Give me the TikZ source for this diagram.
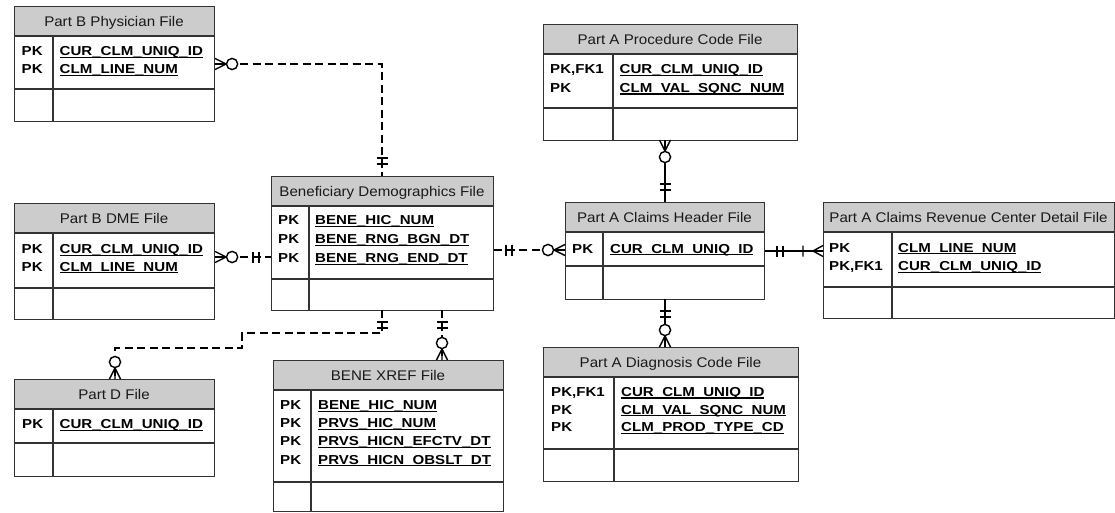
\documentclass[tikz,border=0pt]{standalone}
\usepackage{fontspec}
\setmainfont{Liberation Sans}
\newfontfamily\titlefam{Liberation Sans}[FakeStretch=1.08]
\newfontfamily\keyfam{Liberation Sans}[FakeStretch=1.16]

% underlined attribute name, rule merged with the underscores
\newcommand{\ulbox}[1]{\setbox0=\hbox{#1}\rlap{\rule[-2.3pt]{\wd0}{1.15pt}}\box0}

\tikzset{
  hdrfill/.style={fill=black!20},
  frame/.style={draw=black!80, line width=1.1pt},
  titletxt/.style={font=\titlefam\fontsize{14}{16}\selectfont, text=black!90, anchor=base, inner sep=0pt},
  field/.style={font=\keyfam\bfseries\fontsize{13}{15}\selectfont, text=black, anchor=base west, inner sep=0pt},
  rel/.style={line width=1.4pt, draw=black},
  ident/.style={rel},
  nonident/.style={rel, dash pattern=on 8pt off 4.5pt},
  % cardinality marks, drawn outward from the entity edge along +x
  zmany/.pic={
    \draw[rel] (0,5.5) -- (11,0) -- (0,-5.5) (0,0) -- (11,0);
    \draw[rel, fill=white] (17,0) circle[radius=5.6];
  },
  onlyone/.pic={
    \draw[rel] (12,-5.5) -- (12,5.5) (18,-5.5) -- (18,5.5) (12,0) -- (18,0);
  },
  onemany/.pic={
    \draw[rel] (0,5.5) -- (10,0) -- (0,-5.5) (0,0) -- (20,0) (20,-5.5) -- (20,5.5);
  },
}

% entity: name, left, top, right, header bottom, key bottom, bottom, column divider, title
\newcommand{\erentity}[9]{%
  \fill[hdrfill] (#2,#3) rectangle (#4,#5);
  \draw[frame] (#2,#5) -- (#4,#5) (#2,#6) -- (#4,#6) (#8,#5) -- (#8,#7);
  \node[frame, anchor=north west, inner sep=0pt,
        minimum width={(#4-#2)*1pt}, minimum height={(#7-#3)*1pt}] (#1) at (#2,#3) {};
  \node[titletxt] (#1-title) at ({(#2+#4)/2},{(#3+#5)/2+5}) {#9};
}
% field row: name, key x, attribute x, baseline, key, attribute
\newcommand{\erow}[6]{%
  \node[field] (#1-k) at (#2,#4) {#5};
  \node[field] (#1-a) at (#3,#4) {\ulbox{#6}};
}

\begin{document}
\begin{tikzpicture}[x=1pt, y=-1pt]
\useasboundingbox (0,0) rectangle (1115,512);
\fill[white] (0,0) rectangle (1115,512);

% ---------- entities ----------
\erentity{phys}{14}{6}{214}{36}{89}{121}{53}{Part B Physician File}
\erow{phys-1}{21.5}{59.5}{55.5}{PK}{CUR\_CLM\_UNIQ\_ID}
\erow{phys-2}{21.5}{59.5}{73.8}{PK}{CLM\_LINE\_NUM}

\erentity{dme}{14}{203}{214}{233}{288}{319}{53}{Part B DME File}
\erow{dme-1}{21.5}{59.5}{253.5}{PK}{CUR\_CLM\_UNIQ\_ID}
\erow{dme-2}{21.5}{59.5}{271}{PK}{CLM\_LINE\_NUM}

\erentity{bene}{271}{176}{493}{206}{279}{310}{309}{Beneficiary Demographics File}
\erow{bene-1}{278}{315}{224.5}{PK}{BENE\_HIC\_NUM}
\erow{bene-2}{278}{315}{243.5}{PK}{BENE\_RNG\_BGN\_DT}
\erow{bene-3}{278}{315}{262.5}{PK}{BENE\_RNG\_END\_DT}

\erentity{proc}{543}{24}{797}{54}{108}{140}{613}{Part A Procedure Code File}
\erow{proc-1}{550}{619.5}{73.5}{PK,FK1}{CUR\_CLM\_UNIQ\_ID}
\erow{proc-2}{550}{619.5}{92.2}{PK}{CLM\_VAL\_SQNC\_NUM}

\erentity{hdr}{565}{202}{764}{232}{266}{299}{603}{Part A Claims Header File}
\erow{hdr-1}{572}{610}{253}{PK}{CUR\_CLM\_UNIQ\_ID}

\erentity{rev}{823}{202}{1114}{232}{287}{318}{892}{Part A Claims Revenue Center Detail File}
\erow{rev-1}{829}{898}{252}{PK}{CLM\_LINE\_NUM}
\erow{rev-2}{829}{898}{270.5}{PK,FK1}{CUR\_CLM\_UNIQ\_ID}

\erentity{partd}{14}{379}{214}{409}{443}{476}{53}{Part D File}
\erow{partd-1}{22}{59.5}{428.5}{PK}{CUR\_CLM\_UNIQ\_ID}

\erentity{xref}{273}{360}{503}{390}{482}{511}{311}{BENE XREF File}
\erow{xref-1}{280}{318}{409.5}{PK}{BENE\_HIC\_NUM}
\erow{xref-2}{280}{318}{427.5}{PK}{PRVS\_HIC\_NUM}
\erow{xref-3}{280}{318}{445.8}{PK}{PRVS\_HICN\_EFCTV\_DT}
\erow{xref-4}{280}{318}{464}{PK}{PRVS\_HICN\_OBSLT\_DT}

\erentity{diag}{543}{347}{798}{377}{449}{481}{614}{Part A Diagnosis Code File}
\erow{diag-1}{551}{621}{396.2}{PK,FK1}{CUR\_CLM\_UNIQ\_ID}
\erow{diag-2}{551}{621}{414}{PK}{CLM\_VAL\_SQNC\_NUM}
\erow{diag-3}{551}{621}{431.8}{PK}{CLM\_PROD\_TYPE\_CD}

% ---------- connection points on the entity edges ----------
\coordinate (phys-out)   at (phys.east |- {0,64});
\coordinate (bene-top)   at (382,176);
\coordinate (dme-out)    at (dme.east |- {0,257});
\coordinate (bene-left)  at (bene.west |- {0,257});
\coordinate (bene-right) at (bene.east |- {0,250});
\coordinate (hdr-left)   at (hdr.west |- {0,250});
\coordinate (proc-bot)   at (665,140);
\coordinate (hdr-top)    at (665,202);
\coordinate (hdr-right)  at (hdr.east |- {0,251});
\coordinate (rev-left)   at (rev.west |- {0,251});
\coordinate (hdr-bot)    at (665,299);
\coordinate (diag-top)   at (665,347);
\coordinate (bene-bot1)  at (382,310);
\coordinate (partd-top)  at (115,379);
\coordinate (bene-bot2)  at (442,310);
\coordinate (xref-top)   at (442,360);
% bends of the Part D route
\coordinate (pd-bend1)   at (242,333);
\coordinate (pd-bend2)   at (242,348);

% ---------- relationships ----------
\draw[nonident] (phys-out) -| (bene-top);
\draw[nonident] (dme-out) -- (bene-left);
\draw[nonident] (bene-right) -- (hdr-left);
\draw[ident] (proc-bot) -- (hdr-top);
\draw[ident] (hdr-right) -- (rev-left);
\draw[ident] (hdr-bot) -- (diag-top);
\draw[nonident] (bene-bot1) |- (pd-bend1) -- (pd-bend2) -| (partd-top);
\draw[nonident] (bene-bot2) -- (xref-top);

% ---------- cardinality marks ----------
\pic at (phys-out) {zmany};
\pic[rotate=90] at (bene-top) {onlyone};
\pic at (dme-out) {zmany};
\pic[rotate=180] at (bene-left) {onlyone};
\pic at (bene-right) {onlyone};
\pic[rotate=180] at (hdr-left) {zmany};
\pic[rotate=-90] at (proc-bot) {zmany};
\pic[rotate=90] at (hdr-top) {onlyone};
\pic at (hdr-right) {onlyone};
\pic[rotate=180] at (rev-left) {onemany};
\pic[rotate=-90] at (hdr-bot) {onlyone};
\pic[rotate=90] at (diag-top) {zmany};
\pic[rotate=-90] at (bene-bot1) {onlyone};
\pic[rotate=90] at (partd-top) {zmany};
\pic[rotate=-90] at (bene-bot2) {onlyone};
\pic[rotate=90] at (xref-top) {zmany};
\end{tikzpicture}
\end{document}
